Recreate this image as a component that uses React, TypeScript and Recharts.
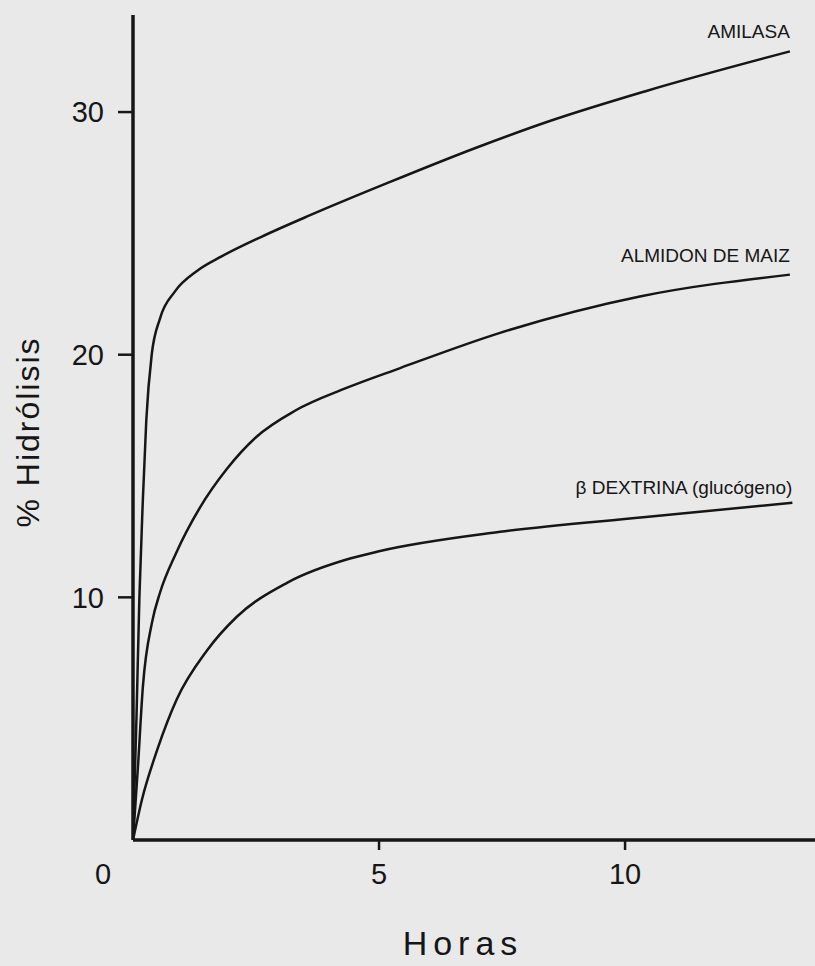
import React from 'react';
import { LineChart, Line, XAxis, YAxis, LabelList } from 'recharts';

// horas vs % hidrolisis
const amilasaHoras = [0, 0.07, 0.13, 0.2, 0.27, 0.38, 0.55, 0.85, 1.3, 1.8, 2.6, 3.6, 5.2, 7.0, 8.5, 10.4, 13.35];
const amilasaHidrolisis = [0, 5, 10, 14, 17.3, 20.0, 21.5, 22.6, 23.45, 24.05, 24.85, 25.75, 27.1, 28.55, 29.65, 30.85, 32.5];

const almidonHoras = [0, 0.1, 0.2, 0.39, 0.55, 0.87, 1.36, 1.91, 2.5, 3.3, 4.3, 5.43, 7.46, 10.3, 13.35];
const almidonHidrolisis = [0, 3.0, 6.3, 9.0, 10.2, 11.8, 13.7, 15.3, 16.6, 17.7, 18.6, 19.45, 20.9, 22.4, 23.3];

const dextrinaHoras = [0, 0.18, 0.49, 0.89, 1.5, 2.11, 3.13, 4.41, 5.0, 7.46, 10.37, 13.4];
const dextrinaHidrolisis = [0, 1.65, 3.7, 5.8, 7.8, 9.2, 10.6, 11.6, 11.9, 12.7, 13.3, 13.9];

const xTicks = [0, 5, 10];
const yTicks = [10, 20, 30];

const seriesNames = ['AMILASA', 'ALMIDON DE MAIZ', 'β DEXTRINA (glucógeno)'];

const toPoints = (xs: number[], ys: number[]) => xs.map((h, i) => ({ horas: h, valor: ys[i] }));

const series = [
  toPoints(amilasaHoras, amilasaHidrolisis),
  toPoints(almidonHoras, almidonHidrolisis),
  toPoints(dextrinaHoras, dextrinaHidrolisis),
];

const INK = '#161616';
const FONT = '"Liberation Sans", Arial, sans-serif';

const XTick = (props: any) => {
  const { x, y, payload } = props;
  const v = payload.value;
  return (
    <g>
      {v !== 0 && <line x1={x} x2={x} y1={y - 16} y2={y - 6} stroke={INK} strokeWidth={2.5} />}
      <text x={v === 0 ? x - 30 : x} y={y + 28} textAnchor="middle" fontSize={29} fontFamily={FONT} fill={INK}>
        {v}
      </text>
    </g>
  );
};

const endLabel = (name: string, count: number, lift: number) => (props: any) => {
  const { x, y, index } = props;
  if (index !== count - 1) return null;
  return (
    <text x={x} y={y - lift} textAnchor="end" fontSize={19} fontFamily={FONT} fill={INK}>
      {name}
    </text>
  );
};

const lifts = [13, 13, 9];

export default function App() {
  return (
    <div style={{ position: 'absolute', left: 0, top: 0, width: 815, height: 966, background: '#e9e9e9' }}>
      <LineChart width={815} height={966} margin={{ top: 15, right: 0, bottom: 0, left: 0 }}>
        <XAxis
          type="number"
          dataKey="horas"
          domain={[0, 13.86]}
          ticks={xTicks}
          allowDataOverflow
          height={126}
          tickLine={false}
          tickSize={10}
          tickMargin={6}
          tick={<XTick />}
          axisLine={{ stroke: INK, strokeWidth: 3.5 }}
        />
        <YAxis
          type="number"
          domain={[0, 34]}
          ticks={yTicks}
          allowDataOverflow
          width={133}
          tickSize={15}
          tickMargin={14}
          tickLine={{ stroke: INK, strokeWidth: 2.5 }}
          axisLine={{ stroke: INK, strokeWidth: 3.5 }}
          tick={{ fill: INK, fontSize: 29, fontFamily: FONT }}
        />
        {series.map((data, i) => (
          <Line
            key={seriesNames[i]}
            data={data}
            dataKey="valor"
            type="monotone"
            stroke={INK}
            strokeWidth={2.5}
            dot={false}
            isAnimationActive={false}
          >
            <LabelList dataKey="valor" content={endLabel(seriesNames[i], data.length, lifts[i])} />
          </Line>
        ))}
      </LineChart>
      <div
        style={{
          position: 'absolute',
          left: 28,
          top: 432,
          transform: 'translate(-50%, -50%) rotate(-90deg)',
          whiteSpace: 'nowrap',
          fontFamily: FONT,
          fontSize: 32,
          lineHeight: '32px',
          letterSpacing: 2,
          color: INK,
        }}
      >
        % Hidrólisis
      </div>
      <div
        style={{
          position: 'absolute',
          left: 463,
          top: 928,
          transform: 'translateX(-50%)',
          whiteSpace: 'nowrap',
          fontFamily: FONT,
          fontSize: 34,
          lineHeight: '30px',
          letterSpacing: 6,
          color: INK,
        }}
      >
        Horas
      </div>
    </div>
  );
}
